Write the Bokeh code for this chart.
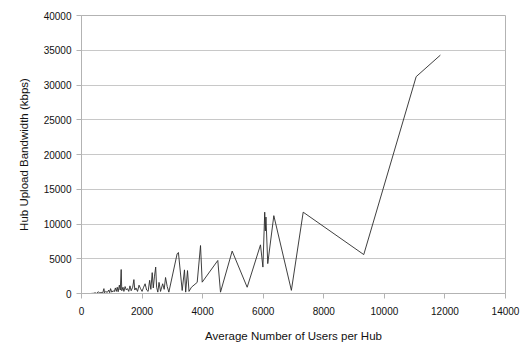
from bokeh.plotting import figure
from bokeh.models import FixedTicker, NumeralTickFormatter, Range1d
from bokeh.embed import file_html
from bokeh.resources import INLINE

users = [300, 400, 450, 500, 560, 600, 650, 700, 740, 760, 800, 850, 900, 930, 960,
         1000, 1050, 1080, 1120, 1150, 1180, 1210, 1250, 1280, 1310, 1330, 1370, 1400,
         1440, 1480, 1520, 1560, 1600, 1640, 1690, 1730, 1760, 1800, 1850, 1900, 1950,
         2000, 2050, 2100, 2150, 2200, 2250, 2290, 2335, 2370, 2410, 2450, 2480, 2520,
         2560, 2610, 2680, 2730, 2775, 2830, 2884, 3157, 3200, 3325, 3400, 3440, 3500,
         3550, 3630, 3820, 3930, 3985, 4500, 4590, 4975, 5470, 5910, 5990, 6050, 6070,
         6090, 6150, 6350, 6930, 7320, 9320, 11050, 11850]
bandwidth = [0, 30, 100, 20, 250, 60, 150, 80, 700, 100, 300, 150, 500, 120, 700,
             200, 400, 250, 800, 300, 900, 250, 1200, 500, 3450, 400, 900, 300,
             1000, 500, 700, 300, 1100, 400, 900, 2000, 500, 800, 300, 1200, 700,
             300, 900, 1400, 500, 300, 1900, 600, 3000, 800, 2500, 3800, 900, 200,
             1600, 300, 1400, 600, 2300, 1000, 200, 5700, 5900, 430, 3400, 200, 3300,
             300, 900, 1600, 6900, 1630, 4750, 190, 6100, 900, 7000, 3800, 11700, 9000,
             11000, 4300, 11200, 450, 11700, 5600, 31200, 34300]

x_ticks = [0, 2000, 4000, 6000, 8000, 10000, 12000, 14000]
y_ticks = [0, 5000, 10000, 15000, 20000, 25000, 30000, 35000, 40000]

FONT = "Liberation Sans"

p = figure(width=520, height=354, output_backend="svg", toolbar_location=None,
           x_range=Range1d(0, 14000), y_range=Range1d(0, 40000),
           min_border_left=81, min_border_right=15, min_border_top=15, min_border_bottom=61)

p.line(users, bandwidth, line_color="#2a2a2a", line_width=0.9)

p.xaxis.ticker = FixedTicker(ticks=x_ticks)
p.yaxis.ticker = FixedTicker(ticks=y_ticks)
p.xaxis.formatter = NumeralTickFormatter(format="0")
p.yaxis.formatter = NumeralTickFormatter(format="0")
p.xaxis.axis_label = "Average Number of Users per Hub"
p.yaxis.axis_label = "Hub Upload Bandwidth (kbps)"

for ax in (p.xaxis, p.yaxis):
    ax.axis_line_color = "#b3b3b3"
    ax.major_tick_line_color = "#b3b3b3"
    ax.major_tick_in = 0
    ax.major_tick_out = 5
    ax.minor_tick_line_color = None
    ax.major_label_text_font = FONT
    ax.major_label_text_font_size = "10px"
    ax.major_label_text_color = "#111111"
    ax.axis_label_text_font = FONT
    ax.axis_label_text_font_size = "11.5px"
    ax.axis_label_text_font_style = "normal"
    ax.axis_label_text_color = "#111111"

p.xaxis.major_label_standoff = 8
p.yaxis.major_label_standoff = 5
p.xaxis.axis_label_standoff = 12
p.yaxis.axis_label_standoff = 11

p.xgrid.grid_line_color = None
p.ygrid.grid_line_color = "#c8c8c8"
p.ygrid.grid_line_width = 1
p.outline_line_color = "#b3b3b3"
p.background_fill_color = "white"
p.border_fill_color = "white"

open("out.html", "w").write(file_html(p, INLINE))
